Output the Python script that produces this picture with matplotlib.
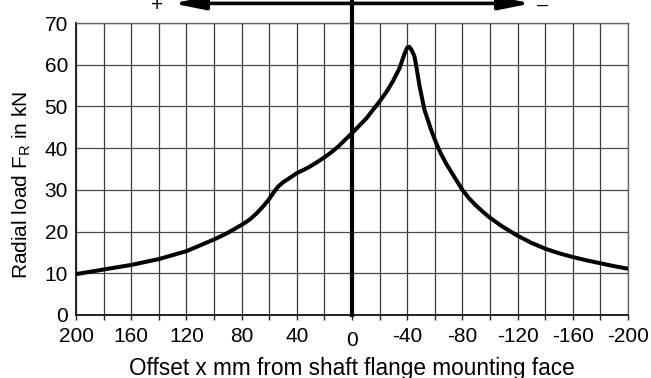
import matplotlib
matplotlib.use("Agg")
import matplotlib.pyplot as plt
import matplotlib.transforms as mtransforms

# Data
offset_mm = [200, 180, 160, 140, 120, 100, 90, 80, 74, 69, 64, 60, 56.5, 53.5, 50, 46.3, 40,
             35, 30.4, 25, 20, 15, 9.9, 5, 0, -5, -10.6, -15, -20, -25, -29.6, -34.5, -38,
             -40, -41.5, -42.9, -45.3, -47, -49, -52.5, -57.3, -61, -64.5, -68.4, -74.5,
             -80, -85, -90, -95, -100, -109, -120, -130, -140, -150, -160, -170, -180, -190,
             -200]
radial_load_kN = [9.8, 10.9, 12.0, 13.4, 15.3, 18.1, 19.7, 21.6, 22.9, 24.4, 26.2, 27.8, 29.5,
                  30.8, 31.8, 32.6, 34.0, 34.8, 35.6, 36.7, 37.8, 39.0, 40.4, 42.0, 43.6, 45.3,
                  47.2, 49.1, 51.2, 53.5, 56.0, 59.2, 62.6, 64.1, 64.3, 63.7, 62.0, 58.8, 54.8,
                  49.2, 44.4, 41.2, 38.6, 36.2, 32.9, 30.0, 27.9, 26.2, 24.7, 23.3, 21.2, 19.0,
                  17.3, 15.9, 14.8, 13.9, 13.1, 12.4, 11.7, 11.1]
x_major_ticks = [200, 160, 120, 80, 40, 0, -40, -80, -120, -160, -200]
x_minor_ticks = list(range(200, -201, -20))
y_ticks = [0, 10, 20, 30, 40, 50, 60, 70]

plt.rcParams['font.family'] = ['Liberation Sans', 'DejaVu Sans']

fig = plt.figure(figsize=(6.51, 3.78), dpi=100)
ax = fig.add_axes([76/651, 1 - 315/378, (628-76)/651, (315-23)/378])

ax.set_xlim(200, -200)
ax.set_ylim(0, 70)

grid_color = '#3a3a3a'
for xv in x_minor_ticks:
    ax.axvline(xv, color=grid_color, lw=0.9, zorder=1)
for yv in y_ticks:
    ax.axhline(yv, color='#4a4a4a', lw=0.9, zorder=1)

ax.plot(offset_mm, radial_load_kN, color='black', lw=2.9, solid_capstyle='butt',
        solid_joinstyle='round', zorder=4)

# thick vertical line at x = 0 extending above the axes
ax.plot([0, 0], [0, 75.6], color='black', lw=3.0, clip_on=False, zorder=5)

# direction arrows
arrow_y = 74.7
for tip in (130, -130):
    ax.annotate('', xy=(tip, arrow_y), xytext=(0, arrow_y), xycoords='data',
                annotation_clip=False,
                arrowprops=dict(arrowstyle='-|>,head_length=1.9,head_width=0.38',
                                color='black', lw=2.6, shrinkA=0, shrinkB=0))
ax.text(141.5, 74.2, '+', fontsize=15, ha='center', va='center', clip_on=False)
ax.text(-138, 74.3, '\u2013', fontsize=14, ha='center', va='center', clip_on=False)

ax.set_xticks(x_minor_ticks, minor=True)
ax.set_xticks(x_major_ticks)
ax.set_xticklabels([str(v) for v in x_major_ticks])
ax.set_yticks(y_ticks)
ax.set_yticklabels([str(v) for v in y_ticks])

ax.tick_params(axis='x', which='both', direction='out', length=3.6, width=1, color='#222222',
               labelsize=15, pad=5)
ax.tick_params(axis='y', which='both', length=0, labelsize=15, pad=5.8)

# the "0" label sits a little lower in the reference
for lbl in ax.get_xticklabels():
    if lbl.get_text() == '0':
        lbl.set_transform(lbl.get_transform() +
                          mtransforms.ScaledTranslation(0, -4/100, fig.dpi_scale_trans))

for side in ('top', 'right'):
    ax.spines[side].set_color('#666666')
    ax.spines[side].set_linewidth(1.0)
for side in ('left', 'bottom'):
    ax.spines[side].set_color('#222222')
    ax.spines[side].set_linewidth(1.4)

fig.text(352/651, 1 - 368/378, 'Offset x mm from shaft flange mounting face',
         fontsize=16.3, ha='center', va='center')
fig.text(22/651, 1 - 185/378, 'Radial load F$_\\mathregular{R}$ in kN',
         fontsize=15, ha='center', va='center', rotation=90)

fig.savefig('out.png', dpi=100)
